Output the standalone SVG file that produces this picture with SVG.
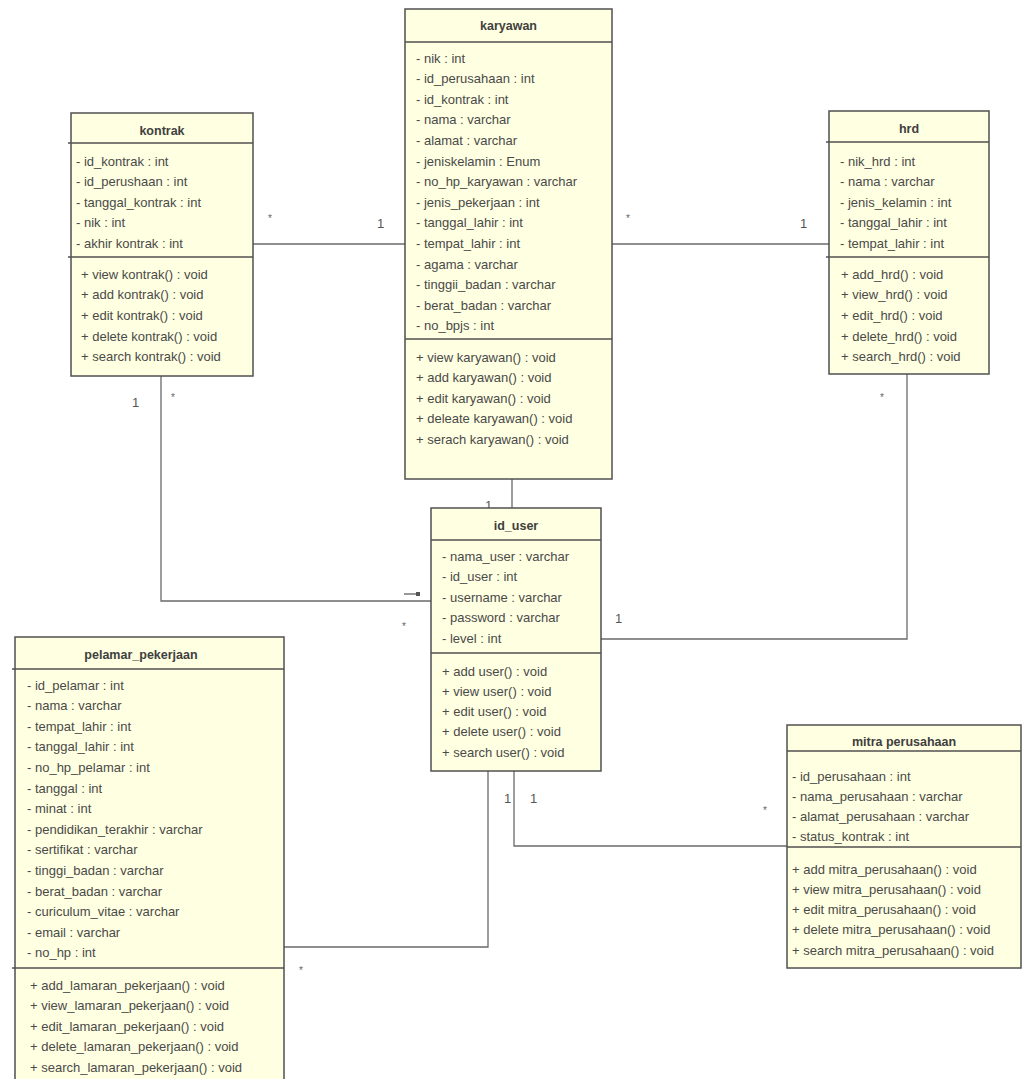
<svg xmlns="http://www.w3.org/2000/svg" width="1035" height="1079" viewBox="0 0 1035 1079">
<style>
.box{fill:#FFFFE1;stroke:#505050;stroke-width:1.5}
.div{stroke:#505050;stroke-width:1.3;fill:none}
.t{font-family:"Liberation Sans",Arial,sans-serif;font-size:13px;fill:#4a4a4a}
.h{font-family:"Liberation Sans",Arial,sans-serif;font-size:12.5px;font-weight:bold;fill:#404040;text-anchor:middle}
.c{stroke:#6a6a6a;stroke-width:1.3;fill:none}
.m{font-family:"Liberation Sans",Arial,sans-serif;font-size:13px;fill:#555}
.s{font-family:"Liberation Sans",Arial,sans-serif;font-size:10px;fill:#666}
</style>
<rect width="1035" height="1079" fill="#ffffff"/>

<g id="connectors">
<polyline class="c" points="253,244 405,244"/>
<polyline class="c" points="612,244 829,244"/>
<polyline class="c" points="512,479 512,508"/>
<polyline class="c" points="161,376 161,601 431,601"/>
<polyline class="c" points="601,639 907,639 907,374"/>
<polyline class="c" points="284,947 488,947 488,771"/>
<polyline class="c" points="514,771 514,846 787,846"/>
<line x1="404" y1="594" x2="416" y2="594" stroke="#555" stroke-width="1.2"/>
<rect x="416" y="592" width="4" height="4" fill="#555"/>
<text class="s" x="268" y="222">*</text>
<text class="m" x="377" y="228">1</text>
<text class="s" x="626" y="222">*</text>
<text class="m" x="800" y="228">1</text>
<text class="m" x="132" y="407">1</text>
<text class="s" x="171" y="401">*</text>
<text class="s" x="880" y="401">*</text>
<text class="m" x="485" y="510">1</text>
<text class="s" x="402" y="630">*</text>
<text class="m" x="615" y="623">1</text>
<text class="m" x="504" y="803">1</text>
<text class="m" x="530" y="803">1</text>
<text class="s" x="763" y="814">*</text>
<text class="s" x="299" y="974">*</text>
</g>

<g id="karyawan">
<rect class="box" x="405" y="9" width="207" height="470"/>
<line class="div" x1="405" y1="42" x2="612" y2="42"/>
<line class="div" x1="405" y1="339" x2="612" y2="339"/>
<text class="h" x="508.5" y="30">karyawan</text>
<text class="t" x="416" y="62.5">- nik : int</text>
<text class="t" x="416" y="83.1">- id_perusahaan : int</text>
<text class="t" x="416" y="103.7">- id_kontrak : int</text>
<text class="t" x="416" y="124.3">- nama : varchar</text>
<text class="t" x="416" y="144.9">- alamat : varchar</text>
<text class="t" x="416" y="165.5">- jeniskelamin : Enum</text>
<text class="t" x="416" y="186.1">- no_hp_karyawan : varchar</text>
<text class="t" x="416" y="206.7">- jenis_pekerjaan : int</text>
<text class="t" x="416" y="227.3">- tanggal_lahir : int</text>
<text class="t" x="416" y="247.9">- tempat_lahir : int</text>
<text class="t" x="416" y="268.5">- agama : varchar</text>
<text class="t" x="416" y="289.1">- tinggii_badan : varchar</text>
<text class="t" x="416" y="309.7">- berat_badan : varchar</text>
<text class="t" x="416" y="330.3">- no_bpjs : int</text>
<text class="t" x="416" y="361.5">+ view karyawan() : void</text>
<text class="t" x="416" y="382.1">+ add karyawan() : void</text>
<text class="t" x="416" y="402.7">+ edit karyawan() : void</text>
<text class="t" x="416" y="423.3">+ deleate karyawan() : void</text>
<text class="t" x="416" y="443.9">+ serach karyawan() : void</text>
</g>

<g id="kontrak">
<rect class="box" x="71" y="113" width="182" height="263"/>
<line class="div" x1="68" y1="143" x2="253" y2="143"/>
<line class="div" x1="68" y1="257" x2="253" y2="257"/>
<text class="h" x="162" y="135">kontrak</text>
<text class="t" x="76" y="165.5">- id_kontrak : int</text>
<text class="t" x="76" y="186">- id_perushaan : int</text>
<text class="t" x="76" y="206.5">- tanggal_kontrak : int</text>
<text class="t" x="76" y="227">- nik : int</text>
<text class="t" x="76" y="247.5">- akhir kontrak : int</text>
<text class="t" x="81" y="278.5">+ view kontrak() : void</text>
<text class="t" x="81" y="299.2">+ add kontrak() : void</text>
<text class="t" x="81" y="319.9">+ edit kontrak() : void</text>
<text class="t" x="81" y="340.6">+ delete kontrak() : void</text>
<text class="t" x="81" y="361.3">+ search kontrak() : void</text>
</g>

<g id="hrd">
<rect class="box" x="829" y="111" width="160" height="263"/>
<line class="div" x1="826" y1="142" x2="989" y2="142"/>
<line class="div" x1="826" y1="257" x2="989" y2="257"/>
<text class="h" x="909" y="133">hrd</text>
<text class="t" x="840" y="165.5">- nik_hrd : int</text>
<text class="t" x="840" y="186">- nama : varchar</text>
<text class="t" x="840" y="206.5">- jenis_kelamin : int</text>
<text class="t" x="840" y="227">- tanggal_lahir : int</text>
<text class="t" x="840" y="247.5">- tempat_lahir : int</text>
<text class="t" x="841" y="278.5">+ add_hrd() : void</text>
<text class="t" x="841" y="299.2">+ view_hrd() : void</text>
<text class="t" x="841" y="319.9">+ edit_hrd() : void</text>
<text class="t" x="841" y="340.6">+ delete_hrd() : void</text>
<text class="t" x="841" y="361.3">+ search_hrd() : void</text>
</g>

<g id="id_user">
<rect class="box" x="431" y="508" width="170" height="263"/>
<line class="div" x1="431" y1="540" x2="601" y2="540"/>
<line class="div" x1="431" y1="653" x2="601" y2="653"/>
<text class="h" x="516" y="530">id_user</text>
<text class="t" x="442" y="560.5">- nama_user : varchar</text>
<text class="t" x="442" y="581">- id_user : int</text>
<text class="t" x="442" y="601.5">- username : varchar</text>
<text class="t" x="442" y="622">- password : varchar</text>
<text class="t" x="442" y="642.5">- level : int</text>
<text class="t" x="442" y="675.5">+ add user() : void</text>
<text class="t" x="442" y="695.8">+ view user() : void</text>
<text class="t" x="442" y="716.1">+ edit user() : void</text>
<text class="t" x="442" y="736.4">+ delete user() : void</text>
<text class="t" x="442" y="756.7">+ search user() : void</text>
</g>

<g id="pelamar_pekerjaan">
<rect class="box" x="15" y="637" width="269" height="450"/>
<line class="div" x1="12" y1="669" x2="284" y2="669"/>
<line class="div" x1="12" y1="968" x2="284" y2="968"/>
<text class="h" x="141" y="659">pelamar_pekerjaan</text>
<text class="t" x="27" y="689.5">- id_pelamar : int</text>
<text class="t" x="27" y="710.1">- nama : varchar</text>
<text class="t" x="27" y="730.7">- tempat_lahir : int</text>
<text class="t" x="27" y="751.3">- tanggal_lahir : int</text>
<text class="t" x="27" y="771.9">- no_hp_pelamar : int</text>
<text class="t" x="27" y="792.5">- tanggal : int</text>
<text class="t" x="27" y="813.1">- minat : int</text>
<text class="t" x="27" y="833.7">- pendidikan_terakhir : varchar</text>
<text class="t" x="27" y="854.3">- sertifikat : varchar</text>
<text class="t" x="27" y="874.9">- tinggi_badan : varchar</text>
<text class="t" x="27" y="895.5">- berat_badan : varchar</text>
<text class="t" x="27" y="916.1">- curiculum_vitae : varchar</text>
<text class="t" x="27" y="936.7">- email : varchar</text>
<text class="t" x="27" y="957.3">- no_hp : int</text>
<text class="t" x="30" y="989.5">+ add_lamaran_pekerjaan() : void</text>
<text class="t" x="30" y="1010">+ view_lamaran_pekerjaan() : void</text>
<text class="t" x="30" y="1030.5">+ edit_lamaran_pekerjaan() : void</text>
<text class="t" x="30" y="1051">+ delete_lamaran_pekerjaan() : void</text>
<text class="t" x="30" y="1071.5">+ search_lamaran_pekerjaan() : void</text>
</g>

<g id="mitra_perusahaan">
<rect class="box" x="787" y="725" width="234" height="243"/>
<line class="div" x1="787" y1="751" x2="1021" y2="751"/>
<line class="div" x1="787" y1="847" x2="1021" y2="847"/>
<text class="h" x="904" y="746">mitra perusahaan</text>
<text class="t" x="792" y="780.5">- id_perusahaan : int</text>
<text class="t" x="792" y="800.8">- nama_perusahaan : varchar</text>
<text class="t" x="792" y="821.1">- alamat_perusahaan : varchar</text>
<text class="t" x="792" y="841.4">- status_kontrak : int</text>
<text class="t" x="792" y="873.5">+ add mitra_perusahaan() : void</text>
<text class="t" x="792" y="893.8">+ view mitra_perusahaan() : void</text>
<text class="t" x="792" y="914.1">+ edit mitra_perusahaan() : void</text>
<text class="t" x="792" y="934.4">+ delete mitra_perusahaan() : void</text>
<text class="t" x="792" y="954.7">+ search mitra_perusahaan() : void</text>
</g>
</svg>
